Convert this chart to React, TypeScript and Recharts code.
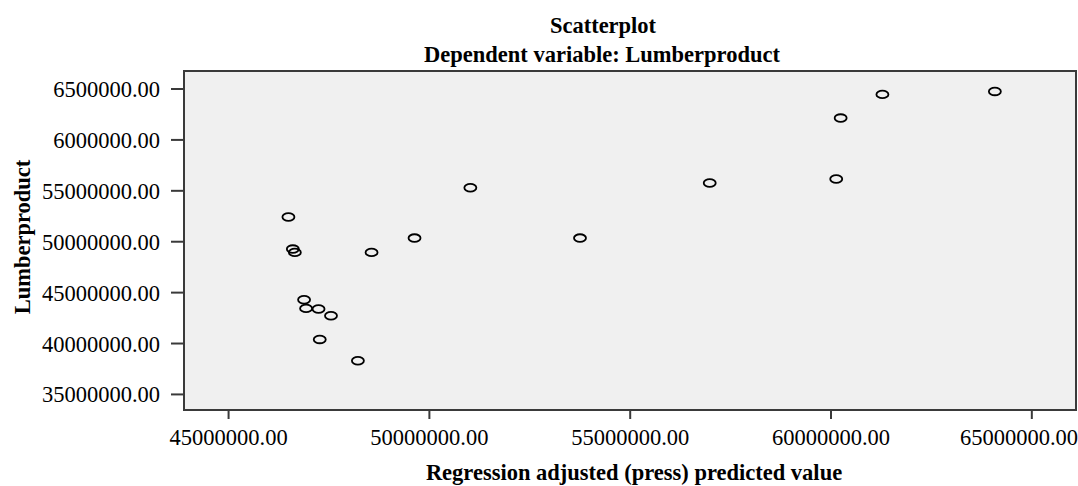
import { ReferenceArea, Scatter, ScatterChart, XAxis, YAxis } from "recharts";

// predicted value (x) vs Lumberproduct (y)
const predicted = [
  46490000, 46600000, 46650000, 48560000, 46880000, 46930000, 47240000,
  47550000, 47270000, 48220000, 49630000, 51020000, 53750000, 56980000,
  60130000, 60240000, 61280000, 64080000,
];
const lumber = [
  52430000, 49280000, 48950000, 48950000, 44300000, 43450000, 43390000,
  42730000, 40400000, 38310000, 50360000, 55300000, 50360000, 55770000,
  56160000, 62150000, 64470000, 64760000,
];

const xTicks = [45000000, 50000000, 55000000, 60000000, 65000000];
const yTicks = [35000000, 40000000, 45000000, 50000000, 55000000, 60000000, 65000000];
const yTickLabels = [
  "35000000.00",
  "40000000.00",
  "45000000.00",
  "50000000.00",
  "55000000.00",
  "6000000.00",
  "6500000.00",
];

const xDomain = [43890000, 66100000];
const yDomain = [33470000, 66770000];

const FONT = "'Liberation Serif', 'Times New Roman', serif";
const AXIS = "#3a3a3a";

const data = predicted.map((x, i) => ({ x, y: lumber[i] }));

const Ring = (props: any) => (
  <ellipse
    cx={props.cx}
    cy={props.cy}
    rx={6}
    ry={3.8}
    fill="none"
    stroke="#000"
    strokeWidth={1.8}
  />
);

export default function App() {
  const tickStyle = { fontFamily: FONT, fontSize: 22.5, fill: "#000" };
  return (
    <div style={{ position: "absolute", left: 0, top: 0 }}>
      <ScatterChart
        width={1078}
        height={486}
        margin={{ top: 71, right: 2, bottom: 0, left: 0 }}
      >
        <ReferenceArea
          x1={xDomain[0]}
          x2={xDomain[1]}
          y1={yDomain[0]}
          y2={yDomain[1]}
          fill="#f0f0f0"
          fillOpacity={1}
          stroke={AXIS}
          strokeWidth={2}
          ifOverflow="visible"
        />
        <XAxis
          type="number"
          dataKey="x"
          domain={xDomain}
          ticks={xTicks}
          allowDataOverflow
          height={76}
          tickSize={9}
          tickMargin={10}
          tick={tickStyle}
          tickFormatter={(v: number) => v.toFixed(2)}
          axisLine={{ stroke: AXIS, strokeWidth: 2 }}
          tickLine={{ stroke: AXIS, strokeWidth: 2 }}
          label={{
            content: () => (
              <text
                x={634}
                y={480}
                textAnchor="middle"
                fontFamily={FONT}
                fontSize={22.5}
                fontWeight="bold"
                fill="#000"
              >
                Regression adjusted (press) predicted value
              </text>
            ),
          }}
        />
        <YAxis
          type="number"
          dataKey="y"
          domain={yDomain}
          ticks={yTicks}
          allowDataOverflow
          width={184}
          tickSize={13}
          tickMargin={11}
          tick={tickStyle}
          tickFormatter={(v: number) => yTickLabels[yTicks.indexOf(v)]}
          axisLine={{ stroke: AXIS, strokeWidth: 2 }}
          tickLine={{ stroke: AXIS, strokeWidth: 2 }}
          label={{
            content: () => (
              <text
                x={30}
                y={237}
                transform="rotate(-90 30 237)"
                textAnchor="middle"
                fontFamily={FONT}
                fontSize={22.5}
                fontWeight="bold"
                fill="#000"
              >
                Lumberproduct
              </text>
            ),
          }}
        />
        <Scatter data={data} shape={Ring} isAnimationActive={false} />
        <text
          x={603}
          y={33}
          textAnchor="middle"
          fontFamily={FONT}
          fontSize={22.5}
          fontWeight="bold"
          fill="#000"
        >
          Scatterplot
        </text>
        <text
          x={602}
          y={61.5}
          textAnchor="middle"
          fontFamily={FONT}
          fontSize={22.5}
          fontWeight="bold"
          fill="#000"
        >
          Dependent variable: Lumberproduct
        </text>
      </ScatterChart>
    </div>
  );
}
